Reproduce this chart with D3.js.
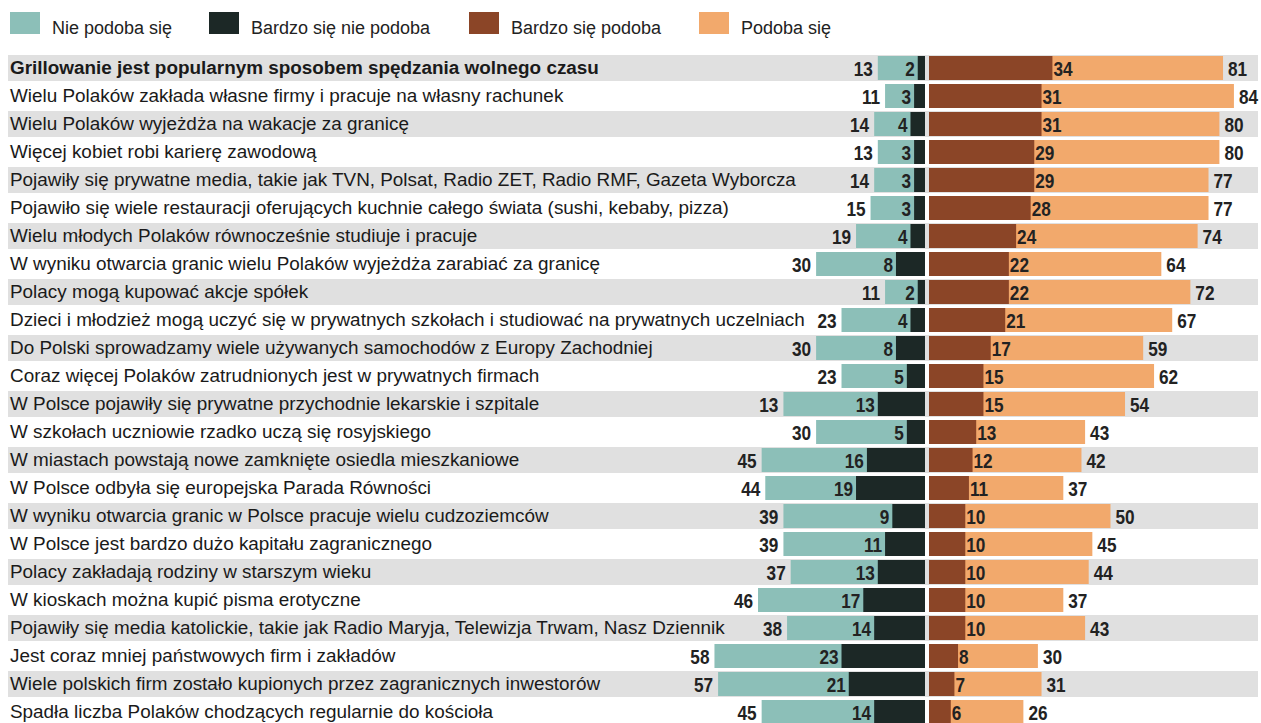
<!DOCTYPE html>
<html>
<head>
<meta charset="utf-8">
<script src="https://cdn.jsdelivr.net/npm/d3@7"></script>
<style>
  body { margin: 0; background: #fff; }
  svg { display: block; }
</style>
</head>
<body>
<div id="chart"></div>
<script>
// stwierdzenia (kolejność jak na wykresie)
var statements = [
	'Grillowanie jest popularnym sposobem spędzania wolnego czasu',
	'Wielu Polaków zakłada własne firmy i pracuje na własny rachunek',
	'Wielu Polaków wyjeżdża na wakacje za granicę',
	'Więcej kobiet robi karierę zawodową',
	'Pojawiły się prywatne media, takie jak TVN, Polsat, Radio ZET, Radio RMF, Gazeta Wyborcza',
	'Pojawiło się wiele restauracji oferujących kuchnie całego świata (sushi, kebaby, pizza)',
	'Wielu młodych Polaków równocześnie studiuje i pracuje',
	'W wyniku otwarcia granic wielu Polaków wyjeżdża zarabiać za granicę',
	'Polacy mogą kupować akcje spółek',
	'Dzieci i młodzież mogą uczyć się w prywatnych szkołach i studiować na prywatnych uczelniach',
	'Do Polski sprowadzamy wiele używanych samochodów z Europy Zachodniej',
	'Coraz więcej Polaków zatrudnionych jest w prywatnych firmach',
	'W Polsce pojawiły się prywatne przychodnie lekarskie i szpitale',
	'W szkołach uczniowie rzadko uczą się rosyjskiego',
	'W miastach powstają nowe zamknięte osiedla mieszkaniowe',
	'W Polsce odbyła się europejska Parada Równości',
	'W wyniku otwarcia granic w Polsce pracuje wielu cudzoziemców',
	'W Polsce jest bardzo dużo kapitału zagranicznego',
	'Polacy zakładają rodziny w starszym wieku',
	'W kioskach można kupić pisma erotyczne',
	'Pojawiły się media katolickie, takie jak Radio Maryja, Telewizja Trwam, Nasz Dziennik',
	'Jest coraz mniej państwowych firm i zakładów',
	'Wiele polskich firm zostało kupionych przez zagranicznych inwestorów',
	'Spadła liczba Polaków chodzących regularnie do kościoła'
];

// "nie podoba się" razem (liczba na zewnątrz słupka)
var dislikeTotal = [13, 11, 14, 13, 14, 15, 19, 30, 11, 23, 30, 23, 13, 30, 45, 44, 39, 39, 37, 46, 38, 58, 57, 45];
// "bardzo się nie podoba"
var dislikeStrong = [2, 3, 4, 3, 3, 3, 4, 8, 2, 4, 8, 5, 13, 5, 16, 19, 9, 11, 13, 17, 14, 23, 21, 14];
// "bardzo się podoba"
var likeStrong = [34, 31, 31, 29, 29, 28, 24, 22, 22, 21, 17, 15, 15, 13, 12, 11, 10, 10, 10, 10, 10, 8, 7, 6];
// "podoba się" razem (liczba na zewnątrz słupka)
var likeTotal = [81, 84, 80, 80, 77, 77, 74, 64, 72, 67, 59, 62, 54, 43, 42, 37, 50, 45, 44, 37, 43, 30, 31, 26];
// w oryginale słupek nie zgadza się z podpisem (13) - długość odczytana ze słupka
var dislikeBarFix = {12: 39};

var legendLabels = ['Nie podoba się', 'Bardzo się nie podoba', 'Bardzo się podoba', 'Podoba się'];
var colors = ['#8cbfb8', '#1c2826', '#8b4527', '#f2a96c'];

var width = 1261, height = 723;
var rowTop = 55, rowStep = 28, barH = 24;
var centerL = 925, centerR = 929;
var textFont = 'Liberation Sans, Arial, sans-serif';

var svg = d3.select('#chart')
	.append('svg')
	.attr('width', width)
	.attr('height', height);

// legenda
var legendX = [10, 209, 469, 699];
var legend = svg.selectAll('g.legend')
	.data(legendLabels)
	.enter()
	.append('g')
	.attr('class', 'legend')
	.attr('transform', function(d, i) { return 'translate(' + legendX[i] + ',12)'; });

legend.append('rect')
	.attr('width', 30)
	.attr('height', 22)
	.attr('fill', function(d, i) { return colors[i]; });

legend.append('text')
	.attr('x', 42)
	.attr('y', 22)
	.attr('font-family', textFont)
	.attr('font-size', 18)
	.attr('fill', '#222')
	.text(function(d) { return d; });

var data = statements.map(function(s, i) {
	return {
		label: s,
		dislikeTotal: dislikeTotal[i],
		dislikeBar: dislikeBarFix[i] || dislikeTotal[i],
		dislikeStrong: dislikeStrong[i],
		likeStrong: likeStrong[i],
		likeTotal: likeTotal[i]
	};
});

var y = d3.scaleBand()
	.domain(d3.range(data.length))
	.range([rowTop, rowTop + rowStep * data.length])
	.paddingInner(0);

var x = d3.scaleLinear()
	.domain([0, 100])
	.range([0, 363]);

var rows = svg.selectAll('g.row')
	.data(data)
	.enter()
	.append('g')
	.attr('class', 'row')
	.attr('transform', function(d, i) { return 'translate(0,' + y(i) + ')'; });

// tło co drugiego wiersza
rows.filter(function(d, i) { return i % 2 === 0; })
	.append('rect')
	.attr('x', 8)
	.attr('y', 0)
	.attr('width', width - 11)
	.attr('height', rowStep - 2)
	.attr('fill', '#e0e0e0');

var by = (rowStep - 2 - barH) / 2;

rows.append('rect')
	.attr('x', function(d) { return centerL - x(d.dislikeBar); })
	.attr('y', by)
	.attr('width', function(d) { return x(d.dislikeBar); })
	.attr('height', barH)
	.attr('fill', colors[0]);

rows.append('rect')
	.attr('x', function(d) { return centerL - x(d.dislikeStrong); })
	.attr('y', by)
	.attr('width', function(d) { return x(d.dislikeStrong); })
	.attr('height', barH)
	.attr('fill', colors[1]);

rows.append('rect')
	.attr('x', centerR)
	.attr('y', by)
	.attr('width', function(d) { return x(d.likeTotal); })
	.attr('height', barH)
	.attr('fill', colors[3]);

rows.append('rect')
	.attr('x', centerR)
	.attr('y', by)
	.attr('width', function(d) { return x(d.likeStrong); })
	.attr('height', barH)
	.attr('fill', colors[2]);

// podpisy wierszy
rows.append('text')
	.attr('x', 10)
	.attr('y', 19)
	.attr('font-family', textFont)
	.attr('font-size', 18.9)
	.attr('font-weight', function(d, i) { return i === 0 ? 'bold' : 'normal'; })
	.attr('fill', '#1a1a1a')
	.text(function(d) { return d.label; });

// liczby
function num(sel, xf, anchor, vf) {
	sel.append('text')
		.attr('transform', function(d) { return 'translate(' + xf(d) + ',20.5) scale(0.86,1)'; })
		.attr('text-anchor', anchor)
		.attr('font-family', textFont)
		.attr('font-size', 20)
		.attr('font-weight', 'bold')
		.attr('fill', '#222')
		.text(vf);
}

num(rows, function(d) { return centerL - x(d.dislikeBar) - 5; }, 'end', function(d) { return d.dislikeTotal; });
num(rows, function(d) { return centerL - x(d.dislikeStrong) - 3; }, 'end', function(d) { return d.dislikeStrong; });
num(rows, function(d) { return centerR + x(d.likeStrong) + 1; }, 'start', function(d) { return d.likeStrong; });
num(rows, function(d) { return centerR + x(d.likeTotal) + 5; }, 'start', function(d) { return d.likeTotal; });
</script>
</body>
</html>
